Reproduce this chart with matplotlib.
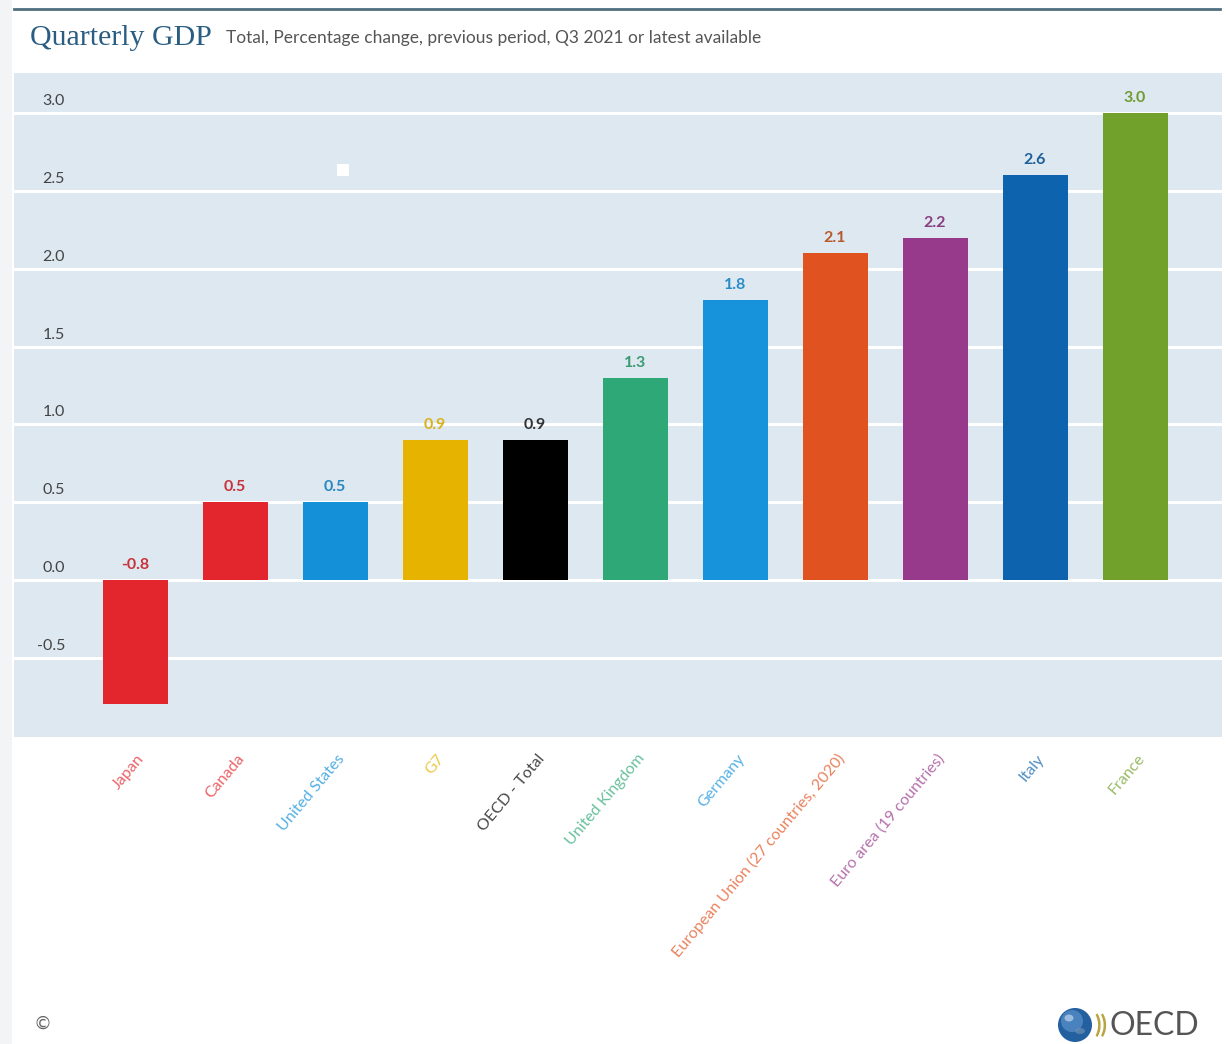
import matplotlib
matplotlib.use("Agg")
import matplotlib.pyplot as plt
from matplotlib.patches import Rectangle, Circle, Ellipse
from matplotlib.transforms import offset_copy

# Quarterly GDP growth, % change on previous period, Q3 2021 or latest available
countries = ["Japan", "Canada", "United States", "G7", "OECD - Total",
             "United Kingdom", "Germany", "European Union (27 countries, 2020)",
             "Euro area (19 countries)", "Italy", "France"]
growth = [-0.8, 0.5, 0.5, 0.9, 0.9, 1.3, 1.8, 2.1, 2.2, 2.6, 3.0]
bar_colors = ["#e3262d", "#e3262d", "#1490d9", "#e6b400", "#000000", "#2fa877",
              "#1693db", "#e0521f", "#983a8c", "#0d63ad", "#71a12a"]
label_colors = ["#c8323a", "#c8323a", "#2a86bf", "#d9b21a", "#333333", "#3a9a74",
                "#2a8cc6", "#b8582d", "#8a3d80", "#1d5f99", "#6f9a30"]
yticks = [-0.5, 0.0, 0.5, 1.0, 1.5, 2.0, 2.5, 3.0]

W, H = 1226, 1044
fig = plt.figure(figsize=(W / 100, H / 100), dpi=100, facecolor="white")

# light frame strip on the left edge
fig.patches.append(Rectangle((0, 0), 12 / W, 1, transform=fig.transFigure,
                             facecolor="#f3f4f5", edgecolor="none", zorder=0))

ax_l, ax_r, ax_t, ax_b = 14, 1222, 73, 737
ax = fig.add_axes([ax_l / W, 1 - ax_b / H, (ax_r - ax_l) / W, (ax_b - ax_t) / H])
ax.set_facecolor("#dde8f0")
for s in ax.spines.values():
    s.set_visible(False)

x = list(range(len(countries)))
ax.bar(x, growth, width=0.65, color=bar_colors, zorder=3)
ax.set_xlim(-1.21, 10.87)
ax.set_ylim(-1.009, 3.258)

# white horizontal gridlines
for t in yticks:
    ax.axhline(t, color="white", lw=2.2, zorder=1)
ax.set_yticks([])
ax.set_xticks([])

# y labels sit inside the panel, just above each gridline
for t in yticks:
    tr = offset_copy(ax.transData, fig=fig, x=51, y=5, units="dots")
    ax.text(ax.get_xlim()[0], t, f"{t:.1f}", transform=tr, ha="right", va="bottom",
            fontsize=11.5, color="#444444", family="Lato")

# value labels above bars
for xi, v, c in zip(x, growth, label_colors):
    tr = offset_copy(ax.transData, fig=fig, x=0, y=8, units="dots")
    ax.text(xi, max(v, 0), f"{v:.1f}", transform=tr, ha="center", va="bottom",
            fontsize=11.5, fontweight="bold", color=c, family="Lato", zorder=4)

# rotated category labels below the panel
for xi, name, c in zip(x, countries, bar_colors):
    tr = offset_copy(ax.get_xaxis_transform(), fig=fig, x=7, y=-19, units="dots")
    ax.text(xi, 0, name, transform=tr, rotation=50, rotation_mode="anchor",
            ha="right", va="center", fontsize=11.5, color=c, alpha=0.72,
            family="Lato", clip_on=False)

# small white marker inside the panel
fig.patches.append(Rectangle((337 / W, 1 - 176 / H), 12 / W, 12 / H,
                             transform=fig.transFigure, facecolor="white",
                             edgecolor="none", zorder=5))

# header rule and titles
fig.add_artist(plt.Line2D([14 / W, 1220 / W], [1 - 9 / H, 1 - 9 / H],
                          color="#4f6f7e", lw=2))
fig.text(30 / W, 1 - 38 / H, "Quarterly GDP", fontsize=21.5, color="#2a5d82",
         family="Liberation Serif", va="center", ha="left")
fig.text(226 / W, 1 - 38 / H,
         "Total, Percentage change, previous period, Q3 2021 or latest available",
         fontsize=12.5, color="#555555", family="Lato", va="center", ha="left")

# footer
fig.text(43 / W, 1 - 1024 / H, "\u00a9", fontsize=13, color="#666666",
         ha="center", va="center")

# logo drawn in a pixel-scaled inset so the globe stays round
lx0, ly0, lw, lh = 1050, 1004, 160, 40
lax = fig.add_axes([lx0 / W, 1 - (ly0 + lh) / H, lw / W, lh / H])
lax.set_xlim(0, lw)
lax.set_ylim(lh, 0)
lax.set_aspect("equal")
lax.axis("off")
lax.add_patch(Circle((25, 21), 17, facecolor="#23609f", edgecolor="none"))
lax.add_patch(Circle((22, 17), 11, facecolor="#4f86c2", edgecolor="none", alpha=0.9))
lax.add_patch(Ellipse((19, 14), 9, 7, facecolor="#a9c6e4", edgecolor="none", alpha=0.85))
lax.add_patch(Ellipse((30, 27), 10, 6, facecolor="#6d8fb2", edgecolor="none", alpha=0.7))
lax.text(51, 21, "))", fontsize=17, color="#b9a440", ha="center", va="center",
         family="Lato", fontweight="bold")
lax.text(104, 22, "OECD", fontsize=23, color="#555555", ha="center", va="center",
         family="Lato")

fig.savefig("out.png", dpi=100, facecolor="white")
